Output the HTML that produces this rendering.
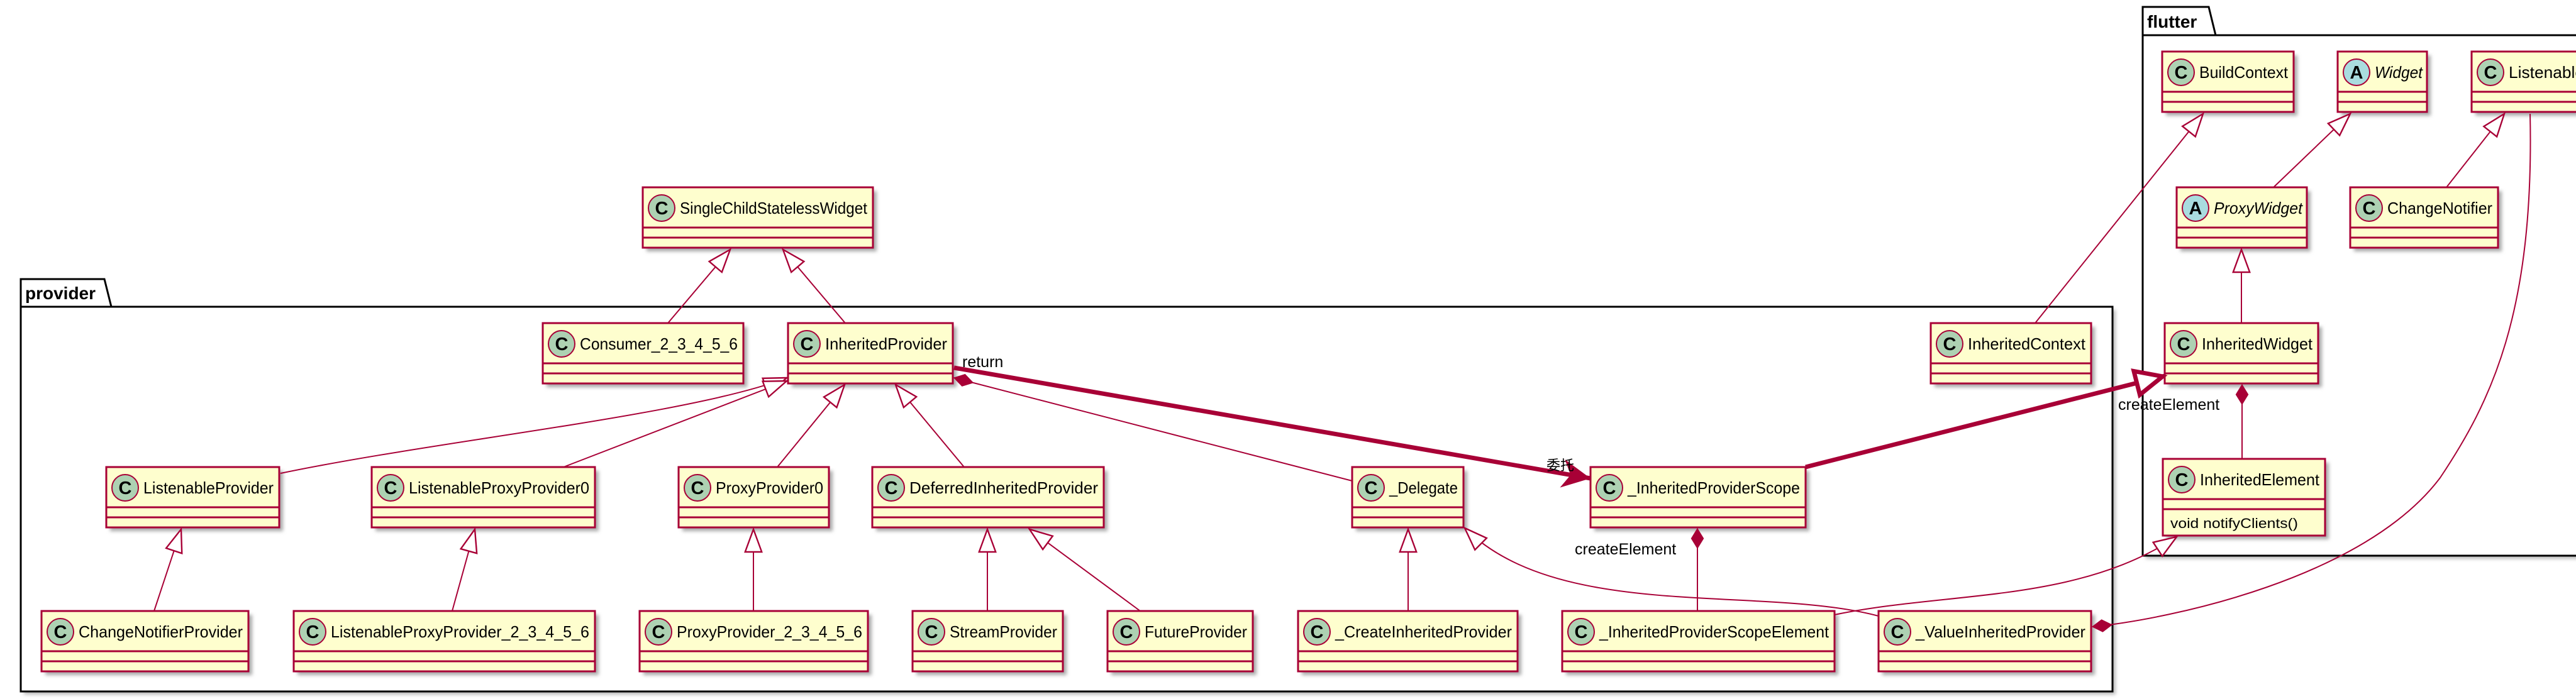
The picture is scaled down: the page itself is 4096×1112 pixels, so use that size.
<!DOCTYPE html>
<html><head><meta charset="utf-8"><style>html,body{margin:0;padding:0;background:#fff}svg{display:block}
.sd{fill:#aaa;filter:url(#sh)}
.bx{fill:#FEFECE;stroke:#A80036;stroke-width:3}
.ln{stroke:#A80036;stroke-width:3}
.cc{fill:#ADD1B2;stroke:#A80036;stroke-width:2}
.ca{fill:#A9DCDF;stroke:#A80036;stroke-width:2}
.lt{font-weight:bold;font-size:29px}
</style></head>
<body>
<svg width="4096" height="1112" viewBox="0 0 4096 1112" xmlns="http://www.w3.org/2000/svg" font-family="'Liberation Sans','Noto Sans CJK SC',sans-serif" font-size="26">
<defs>
<filter id="sh" x="-5%" y="-5%" width="115%" height="130%"><feGaussianBlur stdDeviation="3"/></filter>
<marker id="tri" markerUnits="userSpaceOnUse" markerWidth="60" markerHeight="60" viewBox="-40 -20 50 40" refX="0" refY="0" orient="auto-start-reverse" overflow="visible">
<polygon points="0,0 -30,-11 -30,11" fill="#fff" stroke="#A80036" stroke-width="2"/></marker>
<marker id="dia" markerUnits="userSpaceOnUse" markerWidth="60" markerHeight="60" viewBox="-40 -20 50 40" refX="0" refY="0" orient="auto-start-reverse" overflow="visible">
<polygon points="0,0 -13,-8 -26,0 -13,8" fill="#A80036" stroke="#A80036" stroke-width="1"/></marker>
<marker id="arr" markerUnits="userSpaceOnUse" markerWidth="80" markerHeight="80" viewBox="-50 -30 60 60" refX="0" refY="0" orient="auto" overflow="visible">
<polygon points="0,0 -34,-17 -24,0 -34,17" fill="#A80036"/></marker>
<marker id="btri" markerUnits="userSpaceOnUse" markerWidth="80" markerHeight="80" viewBox="-60 -30 70 60" refX="0" refY="0" orient="auto" overflow="visible">
<polygon points="-3,0 -40,-17 -40,17" fill="#fff" stroke="#A80036" stroke-width="6"/></marker>
</defs>

<!-- packages -->
<g stroke="#000" stroke-width="3" fill="#fff">
<rect x="38" y="493" width="3326" height="612" fill="#bbb" stroke="none" filter="url(#sh)"/>
<polygon points="33,444 166,444 177,488 33,488"/>
<rect x="33" y="488" width="3326" height="612"/>
<rect x="3412" y="61" width="800" height="828" fill="#bbb" stroke="none" filter="url(#sh)"/>
<polygon points="3407,11 3512,11 3523,56 3407,56"/>
<rect x="3407" y="56" width="800" height="828"/>
</g>
<g font-weight="bold" font-size="28" fill="#000">
<text x="40" y="476">provider</text>
<text x="3414" y="44">flutter</text>
</g>

<!-- boxes -->
<g transform="translate(1022,298)"><rect class="sd" x="6" y="6" width="366" height="96"/><rect class="bx" width="366" height="96"/><line class="ln" x1="0" y1="64" x2="366" y2="64"/><line class="ln" x1="0" y1="80" x2="366" y2="80"/><circle class="cc" cx="30" cy="33" r="21"/><text class="lt" x="30" y="43" text-anchor="middle">C</text><text x="59" y="42" textLength="298" lengthAdjust="spacingAndGlyphs">SingleChildStatelessWidget</text></g>
<g transform="translate(863,514)"><rect class="sd" x="6" y="6" width="319" height="96"/><rect class="bx" width="319" height="96"/><line class="ln" x1="0" y1="64" x2="319" y2="64"/><line class="ln" x1="0" y1="80" x2="319" y2="80"/><circle class="cc" cx="30" cy="33" r="21"/><text class="lt" x="30" y="43" text-anchor="middle">C</text><text x="59" y="42" textLength="251" lengthAdjust="spacingAndGlyphs">Consumer_2_3_4_5_6</text></g>
<g transform="translate(1253,514)"><rect class="sd" x="6" y="6" width="262" height="96"/><rect class="bx" width="262" height="96"/><line class="ln" x1="0" y1="64" x2="262" y2="64"/><line class="ln" x1="0" y1="80" x2="262" y2="80"/><circle class="cc" cx="30" cy="33" r="21"/><text class="lt" x="30" y="43" text-anchor="middle">C</text><text x="59" y="42" textLength="194" lengthAdjust="spacingAndGlyphs">InheritedProvider</text></g>
<g transform="translate(169,743)"><rect class="sd" x="6" y="6" width="275" height="96"/><rect class="bx" width="275" height="96"/><line class="ln" x1="0" y1="64" x2="275" y2="64"/><line class="ln" x1="0" y1="80" x2="275" y2="80"/><circle class="cc" cx="30" cy="33" r="21"/><text class="lt" x="30" y="43" text-anchor="middle">C</text><text x="59" y="42" textLength="207" lengthAdjust="spacingAndGlyphs">ListenableProvider</text></g>
<g transform="translate(591,743)"><rect class="sd" x="6" y="6" width="355" height="96"/><rect class="bx" width="355" height="96"/><line class="ln" x1="0" y1="64" x2="355" y2="64"/><line class="ln" x1="0" y1="80" x2="355" y2="80"/><circle class="cc" cx="30" cy="33" r="21"/><text class="lt" x="30" y="43" text-anchor="middle">C</text><text x="59" y="42" textLength="287" lengthAdjust="spacingAndGlyphs">ListenableProxyProvider0</text></g>
<g transform="translate(1079,743)"><rect class="sd" x="6" y="6" width="239" height="96"/><rect class="bx" width="239" height="96"/><line class="ln" x1="0" y1="64" x2="239" y2="64"/><line class="ln" x1="0" y1="80" x2="239" y2="80"/><circle class="cc" cx="30" cy="33" r="21"/><text class="lt" x="30" y="43" text-anchor="middle">C</text><text x="59" y="42" textLength="171" lengthAdjust="spacingAndGlyphs">ProxyProvider0</text></g>
<g transform="translate(1387,743)"><rect class="sd" x="6" y="6" width="368" height="96"/><rect class="bx" width="368" height="96"/><line class="ln" x1="0" y1="64" x2="368" y2="64"/><line class="ln" x1="0" y1="80" x2="368" y2="80"/><circle class="cc" cx="30" cy="33" r="21"/><text class="lt" x="30" y="43" text-anchor="middle">C</text><text x="59" y="42" textLength="300" lengthAdjust="spacingAndGlyphs">DeferredInheritedProvider</text></g>
<g transform="translate(2150,743)"><rect class="sd" x="6" y="6" width="177" height="96"/><rect class="bx" width="177" height="96"/><line class="ln" x1="0" y1="64" x2="177" y2="64"/><line class="ln" x1="0" y1="80" x2="177" y2="80"/><circle class="cc" cx="30" cy="33" r="21"/><text class="lt" x="30" y="43" text-anchor="middle">C</text><text x="59" y="42" textLength="109" lengthAdjust="spacingAndGlyphs">_Delegate</text></g>
<g transform="translate(2529,743)"><rect class="sd" x="6" y="6" width="342" height="96"/><rect class="bx" width="342" height="96"/><line class="ln" x1="0" y1="64" x2="342" y2="64"/><line class="ln" x1="0" y1="80" x2="342" y2="80"/><circle class="cc" cx="30" cy="33" r="21"/><text class="lt" x="30" y="43" text-anchor="middle">C</text><text x="59" y="42" textLength="274" lengthAdjust="spacingAndGlyphs">_InheritedProviderScope</text></g>
<g transform="translate(66,972)"><rect class="sd" x="6" y="6" width="329" height="96"/><rect class="bx" width="329" height="96"/><line class="ln" x1="0" y1="64" x2="329" y2="64"/><line class="ln" x1="0" y1="80" x2="329" y2="80"/><circle class="cc" cx="30" cy="33" r="21"/><text class="lt" x="30" y="43" text-anchor="middle">C</text><text x="59" y="42" textLength="261" lengthAdjust="spacingAndGlyphs">ChangeNotifierProvider</text></g>
<g transform="translate(467,972)"><rect class="sd" x="6" y="6" width="479" height="96"/><rect class="bx" width="479" height="96"/><line class="ln" x1="0" y1="64" x2="479" y2="64"/><line class="ln" x1="0" y1="80" x2="479" y2="80"/><circle class="cc" cx="30" cy="33" r="21"/><text class="lt" x="30" y="43" text-anchor="middle">C</text><text x="59" y="42" textLength="411" lengthAdjust="spacingAndGlyphs">ListenableProxyProvider_2_3_4_5_6</text></g>
<g transform="translate(1017,972)"><rect class="sd" x="6" y="6" width="363" height="96"/><rect class="bx" width="363" height="96"/><line class="ln" x1="0" y1="64" x2="363" y2="64"/><line class="ln" x1="0" y1="80" x2="363" y2="80"/><circle class="cc" cx="30" cy="33" r="21"/><text class="lt" x="30" y="43" text-anchor="middle">C</text><text x="59" y="42" textLength="295" lengthAdjust="spacingAndGlyphs">ProxyProvider_2_3_4_5_6</text></g>
<g transform="translate(1451,972)"><rect class="sd" x="6" y="6" width="239" height="96"/><rect class="bx" width="239" height="96"/><line class="ln" x1="0" y1="64" x2="239" y2="64"/><line class="ln" x1="0" y1="80" x2="239" y2="80"/><circle class="cc" cx="30" cy="33" r="21"/><text class="lt" x="30" y="43" text-anchor="middle">C</text><text x="59" y="42" textLength="171" lengthAdjust="spacingAndGlyphs">StreamProvider</text></g>
<g transform="translate(1761,972)"><rect class="sd" x="6" y="6" width="231" height="96"/><rect class="bx" width="231" height="96"/><line class="ln" x1="0" y1="64" x2="231" y2="64"/><line class="ln" x1="0" y1="80" x2="231" y2="80"/><circle class="cc" cx="30" cy="33" r="21"/><text class="lt" x="30" y="43" text-anchor="middle">C</text><text x="59" y="42" textLength="163" lengthAdjust="spacingAndGlyphs">FutureProvider</text></g>
<g transform="translate(2064,972)"><rect class="sd" x="6" y="6" width="349" height="96"/><rect class="bx" width="349" height="96"/><line class="ln" x1="0" y1="64" x2="349" y2="64"/><line class="ln" x1="0" y1="80" x2="349" y2="80"/><circle class="cc" cx="30" cy="33" r="21"/><text class="lt" x="30" y="43" text-anchor="middle">C</text><text x="59" y="42" textLength="281" lengthAdjust="spacingAndGlyphs">_CreateInheritedProvider</text></g>
<g transform="translate(2484,972)"><rect class="sd" x="6" y="6" width="433" height="96"/><rect class="bx" width="433" height="96"/><line class="ln" x1="0" y1="64" x2="433" y2="64"/><line class="ln" x1="0" y1="80" x2="433" y2="80"/><circle class="cc" cx="30" cy="33" r="21"/><text class="lt" x="30" y="43" text-anchor="middle">C</text><text x="59" y="42" textLength="365" lengthAdjust="spacingAndGlyphs">_InheritedProviderScopeElement</text></g>
<g transform="translate(2987,972)"><rect class="sd" x="6" y="6" width="338" height="96"/><rect class="bx" width="338" height="96"/><line class="ln" x1="0" y1="64" x2="338" y2="64"/><line class="ln" x1="0" y1="80" x2="338" y2="80"/><circle class="cc" cx="30" cy="33" r="21"/><text class="lt" x="30" y="43" text-anchor="middle">C</text><text x="59" y="42" textLength="270" lengthAdjust="spacingAndGlyphs">_ValueInheritedProvider</text></g>
<g transform="translate(3070,514)"><rect class="sd" x="6" y="6" width="255" height="96"/><rect class="bx" width="255" height="96"/><line class="ln" x1="0" y1="64" x2="255" y2="64"/><line class="ln" x1="0" y1="80" x2="255" y2="80"/><circle class="cc" cx="30" cy="33" r="21"/><text class="lt" x="30" y="43" text-anchor="middle">C</text><text x="59" y="42" textLength="187" lengthAdjust="spacingAndGlyphs">InheritedContext</text></g>
<g transform="translate(3438,82)"><rect class="sd" x="6" y="6" width="209" height="96"/><rect class="bx" width="209" height="96"/><line class="ln" x1="0" y1="64" x2="209" y2="64"/><line class="ln" x1="0" y1="80" x2="209" y2="80"/><circle class="cc" cx="30" cy="33" r="21"/><text class="lt" x="30" y="43" text-anchor="middle">C</text><text x="59" y="42" textLength="141" lengthAdjust="spacingAndGlyphs">BuildContext</text></g>
<g transform="translate(3717,82)"><rect class="sd" x="6" y="6" width="142" height="96"/><rect class="bx" width="142" height="96"/><line class="ln" x1="0" y1="64" x2="142" y2="64"/><line class="ln" x1="0" y1="80" x2="142" y2="80"/><circle class="ca" cx="30" cy="33" r="21"/><text class="lt" x="30" y="43" text-anchor="middle">A</text><text x="59" y="42" font-style="italic" textLength="76" lengthAdjust="spacingAndGlyphs">Widget</text></g>
<g transform="translate(3930,82)"><rect class="sd" x="6" y="6" width="370" height="96"/><rect class="bx" width="370" height="96"/><line class="ln" x1="0" y1="64" x2="370" y2="64"/><line class="ln" x1="0" y1="80" x2="370" y2="80"/><circle class="cc" cx="30" cy="33" r="21"/><text class="lt" x="30" y="43" text-anchor="middle">C</text><text x="59" y="42" textLength="120" lengthAdjust="spacingAndGlyphs">Listenable</text></g>
<g transform="translate(3461,298)"><rect class="sd" x="6" y="6" width="207" height="96"/><rect class="bx" width="207" height="96"/><line class="ln" x1="0" y1="64" x2="207" y2="64"/><line class="ln" x1="0" y1="80" x2="207" y2="80"/><circle class="ca" cx="30" cy="33" r="21"/><text class="lt" x="30" y="43" text-anchor="middle">A</text><text x="59" y="42" font-style="italic" textLength="141" lengthAdjust="spacingAndGlyphs">ProxyWidget</text></g>
<g transform="translate(3737,298)"><rect class="sd" x="6" y="6" width="235" height="96"/><rect class="bx" width="235" height="96"/><line class="ln" x1="0" y1="64" x2="235" y2="64"/><line class="ln" x1="0" y1="80" x2="235" y2="80"/><circle class="cc" cx="30" cy="33" r="21"/><text class="lt" x="30" y="43" text-anchor="middle">C</text><text x="59" y="42" textLength="167" lengthAdjust="spacingAndGlyphs">ChangeNotifier</text></g>
<g transform="translate(3442,514)"><rect class="sd" x="6" y="6" width="244" height="96"/><rect class="bx" width="244" height="96"/><line class="ln" x1="0" y1="64" x2="244" y2="64"/><line class="ln" x1="0" y1="80" x2="244" y2="80"/><circle class="cc" cx="30" cy="33" r="21"/><text class="lt" x="30" y="43" text-anchor="middle">C</text><text x="59" y="42" textLength="176" lengthAdjust="spacingAndGlyphs">InheritedWidget</text></g>
<g transform="translate(3439,730)"><rect class="sd" x="6" y="6" width="258" height="122"/><rect class="bx" width="258" height="122"/><line class="ln" x1="0" y1="64" x2="258" y2="64"/><line class="ln" x1="0" y1="80" x2="258" y2="80"/><circle class="cc" cx="30" cy="33" r="21"/><text class="lt" x="30" y="43" text-anchor="middle">C</text><text x="59" y="42" textLength="190" lengthAdjust="spacingAndGlyphs">InheritedElement</text><text x="12" y="110" font-size="22" textLength="203" lengthAdjust="spacingAndGlyphs">void notifyClients()</text></g>

<!-- connectors -->
<g fill="none" stroke="#A80036" stroke-width="2">
<path d="M1161,397 L1062,514" marker-start="url(#tri)"/>
<path d="M1245,397 L1344,514" marker-start="url(#tri)"/>
<path d="M1251,601 C1100,660 700,700 446,753" marker-start="url(#tri)"/>
<path d="M1251,606 L896,743" marker-start="url(#tri)"/>
<path d="M1343,612 L1236,743" marker-start="url(#tri)"/>
<path d="M1424,612 L1533,743" marker-start="url(#tri)"/>
<path d="M1517,601 L2150,765" marker-start="url(#dia)"/>
<path d="M288,842 L245,972" marker-start="url(#tri)"/>
<path d="M755,842 L719,972" marker-start="url(#tri)"/>
<path d="M1198,842 L1198,972" marker-start="url(#tri)"/>
<path d="M1570,842 L1570,972" marker-start="url(#tri)"/>
<path d="M1637,842 L1813,972" marker-start="url(#tri)"/>
<path d="M2239,842 L2239,972" marker-start="url(#tri)"/>
<path d="M2329,840 C2480,990 2800,930 2987,980" marker-start="url(#tri)"/>
<path d="M2699,841 L2699,972" marker-start="url(#dia)"/>
<path d="M3461,854 C3300,960 3100,940 2917,978" marker-start="url(#tri)"/>
<path d="M3565,612 L3565,730" marker-start="url(#dia)"/>
<path d="M3503,181 L3236,514" marker-start="url(#tri)"/>
<path d="M3737,181 L3615,298" marker-start="url(#tri)"/>
<path d="M3564,397 L3564,514" marker-start="url(#tri)"/>
<path d="M3982,181 L3890,298" marker-start="url(#tri)"/>
<path d="M4023,181 C4030,500 3960,640 3880,760 C3760,920 3450,985 3327,997" marker-end="url(#dia)"/>
<path d="M1517,585 L2529,761" stroke-width="7" marker-end="url(#arr)"/>
<path d="M2871,743 L3442,598" stroke-width="7" marker-end="url(#btri)"/>
</g>

<g font-size="25" fill="#000">
<text x="1530" y="584">return</text>
<text x="2459" y="748" font-size="22">委托</text>
<text x="2504" y="882">createElement</text>
<text x="3368" y="652">createElement</text>
</g>
</svg>
</body></html>
